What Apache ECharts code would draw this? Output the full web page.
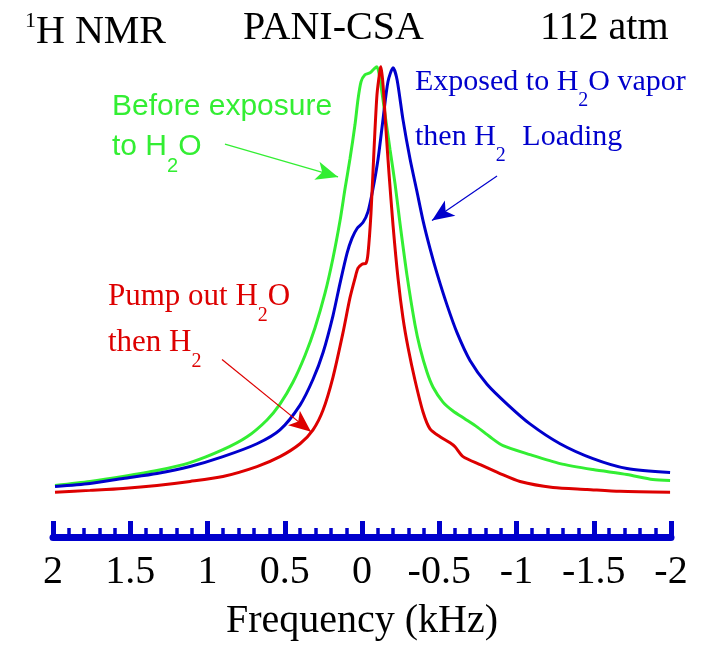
<!DOCTYPE html>
<html>
<head>
<meta charset="utf-8">
<script src="https://cdn.jsdelivr.net/npm/echarts@6/dist/echarts.min.js"></script>
</head>
<body style="margin:0">
<div id="container" style="width:717px;height:646px"></div>
<script>
// spectra: [frequency (kHz), intensity (arb. units)]
var beforeExposure = [
  [1.987,52],[1.761,56],[1.547,61],[1.327,67],[1.113,75],[0.900,88],[0.744,101],[0.615,118],
  [0.531,134],[0.447,156],[0.369,183],[0.304,211],[0.239,246],[0.188,281],[0.142,319],[0.110,351],
  [0.078,381],[0.045,416],[0.026,441],[0.006,459],[-0.019,466],[-0.052,468],[-0.078,472],[-0.097,474],
  [-0.117,461],[-0.149,426],[-0.181,391],[-0.214,356],[-0.246,316],[-0.291,264],[-0.343,214],[-0.375,191],
  [-0.421,166],[-0.460,151],[-0.524,136],[-0.589,127],[-0.667,119],[-0.744,111],[-0.828,101],[-0.913,92],
  [-1.087,83],[-1.282,74],[-1.495,68],[-1.715,63],[-1.883,58],[-1.994,57]
];
var exposedVapor = [
  [1.987,51],[1.761,54],[1.547,59],[1.327,64],[1.113,71],[0.900,81],[0.680,94],[0.531,108],
  [0.401,133],[0.317,159],[0.252,186],[0.188,223],[0.142,256],[0.097,286],[0.065,301],[0.032,311],
  [-0.006,317],[-0.039,328],[-0.071,351],[-0.104,381],[-0.136,421],[-0.168,459],[-0.201,473],[-0.227,461],
  [-0.265,421],[-0.311,381],[-0.356,348],[-0.395,319],[-0.440,291],[-0.485,266],[-0.550,234],[-0.615,206],
  [-0.699,178],[-0.809,154],[-0.939,134],[-1.087,114],[-1.282,94],[-1.495,79],[-1.715,69],[-1.994,65]
];
var pumpOut = [
  [1.987,45],[1.761,47],[1.547,49],[1.327,52],[1.113,56],[0.900,61],[0.680,71],[0.531,81],
  [0.401,94],[0.317,108],[0.252,128],[0.188,161],[0.123,206],[0.078,241],[0.045,261],[0.026,271],
  [0,275],[-0.026,276],[-0.039,286],[-0.058,326],[-0.078,391],[-0.097,446],[-0.117,471],[-0.123,474],
  [-0.136,456],[-0.155,411],[-0.175,366],[-0.201,314],[-0.233,261],[-0.265,221],[-0.298,191],[-0.343,158],
  [-0.395,126],[-0.440,109],[-0.505,101],[-0.570,95],[-0.602,91],[-0.654,81],[-0.764,73],[-0.893,64],
  [-1.023,56],[-1.236,50],[-1.456,48],[-1.670,46],[-1.994,45]
];

// annotation arrows: [start, tip]
var greenArrow = [[0.887,396],[0.155,363]];
var blueArrow = [[-0.874,364],[-0.453,319]];
var redArrow = [[0.906,179],[0.330,106]];

var GREEN = '#33ee33', BLUE = '#0000cc', RED = '#dd0000';
var SERIF = 'Liberation Serif', SANS = 'Liberation Sans';

function arrow(pts, color) {
  return {
    silent: true,
    animation: false,
    symbol: ['none', 'arrow'],
    symbolSize: [14, 22],
    label: { show: false },
    emphasis: { disabled: true },
    lineStyle: { color: color, width: 1.2, type: 'solid' },
    data: [[{ coord: pts[0] }, { coord: pts[1] }]]
  };
}

function line(name, data, color, arr) {
  return {
    name: name,
    type: 'line',
    data: data,
    showSymbol: false,
    smooth: 0.25,
    lineStyle: { color: color, width: 3 },
    itemStyle: { color: color },
    markLine: arrow(arr, color)
  };
}

// rich text helper: m = main text, s = subscript, sup = superscript, g = gap
function richFor(family, size, color) {
  return {
    m: { fontFamily: family, fontSize: size, lineHeight: 36, fill: color, color: color },
    s: { fontFamily: family, fontSize: 20, lineHeight: 36, padding: [38, 0, 0, 0], fill: color, color: color },
    sup: { fontFamily: family, fontSize: 22, lineHeight: 36, padding: [0, 0, 22, 0], fill: color, color: color },
    g: { fontFamily: family, fontSize: size, lineHeight: 36, padding: [0, 0, 0, 9], fill: color, color: color }
  };
}

function label(text, x, y, family, size, color) {
  return {
    type: 'text',
    x: x,
    y: y,
    silent: true,
    style: {
      text: text,
      rich: richFor(family, size, color),
      fill: color,
      align: 'left',
      verticalAlign: 'middle'
    }
  };
}

var dom = document.getElementById('container');
var myChart = echarts.init(dom);

var option = {
  animation: false,
  grid: { left: 53, right: 46, top: 41, bottom: 98 },
  xAxis: {
    type: 'value',
    min: -2,
    max: 2,
    interval: 0.5,
    inverse: true,
    axisLine: { show: true, onZero: false, lineStyle: { color: BLUE, width: 7 } },
    axisTick: { show: true, inside: true, length: 16, lineStyle: { color: BLUE, width: 5 } },
    minorTick: { show: true, splitNumber: 5, length: 9, lineStyle: { color: BLUE, width: 3.5 } },
    splitLine: { show: false },
    axisLabel: { margin: 15, color: '#000', fontFamily: SERIF, fontSize: 40 },
    name: 'Frequency (kHz)',
    nameLocation: 'middle',
    nameGap: 64,
    nameTextStyle: { color: '#000', fontFamily: SERIF, fontSize: 40 }
  },
  yAxis: { type: 'value', min: 0, max: 500, show: false },
  series: [
    line('Before exposure to H2O', beforeExposure, GREEN, greenArrow),
    line('Exposed to H2O vapor then H2 Loading', exposedVapor, BLUE, blueArrow),
    line('Pump out H2O then H2', pumpOut, RED, redArrow)
  ],
  graphic: [
    label('{sup|1}{m|H NMR}', 25, 32, SERIF, 40, '#000'),
    label('{m|PANI-CSA}', 243, 28, SERIF, 40, '#000'),
    label('{m|112 atm}', 540, 28, SERIF, 40, '#000'),
    label('{m|Before exposure}', 112, 107, SANS, 30, GREEN),
    label('{m|to H}{s|2}{m|O}', 112, 147, SANS, 30, GREEN),
    label('{m|Exposed to H}{s|2}{m|O vapor}', 415, 82, SERIF, 30, BLUE),
    label('{m|then H}{s|2}{g| Loading}', 415, 137, SERIF, 30, BLUE),
    label('{m|Pump out H}{s|2}{m|O}', 108, 297, SERIF, 31, RED),
    label('{m|then H}{s|2}', 108, 343, SERIF, 31, RED)
  ]
};

myChart.setOption(option);
</script>
</body>
</html>
